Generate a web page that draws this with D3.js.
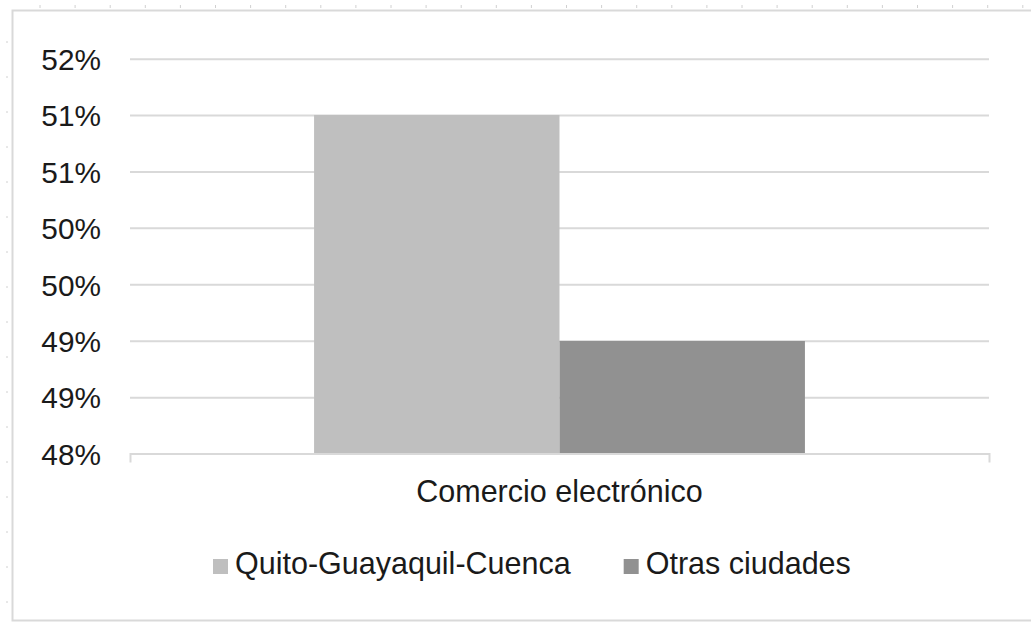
<!DOCTYPE html>
<html>
<head>
<meta charset="utf-8">
<script src="https://cdn.jsdelivr.net/npm/d3@7"></script>
<style>
  html, body { margin: 0; padding: 0; background: #ffffff; }
  svg { display: block; }
  text { font-family: "Liberation Sans", Arial, Helvetica, sans-serif; fill: #1a1a1a; }
</style>
</head>
<body>
<svg id="chart" width="1031" height="623"></svg>
<script>
// Share of e-commerce by city group
const categories = ["Comercio electrónico"];
const seriesNames = ["Quito-Guayaquil-Cuenca", "Otras ciudades"];
const seriesValues = [0.5143, 0.4914];
const seriesColors = ["#bfbfbf", "#919191"];
const yTickValues = [0.48, 0.48571, 0.49143, 0.49714, 0.50286, 0.50857, 0.51429, 0.52];
const yDomain = [0.48, 0.52];

const svg = d3.select("#chart");
const W = 1031, H = 623;

// sheet ruler marks along the top and left edges
const ruler = svg.append("g").attr("stroke", "#d0d0d0").attr("stroke-width", 1);
d3.range(40, W, 35.1).forEach(x => {
  ruler.append("line").attr("x1", x).attr("x2", x).attr("y1", 5).attr("y2", 8);
});
d3.range(42, H, 35).forEach(y => {
  ruler.append("line").attr("x1", 6).attr("x2", 8).attr("y1", y).attr("y2", y);
});

// chart area frame (runs off the right edge)
svg.append("rect")
  .attr("x", 12.5).attr("y", 10.5)
  .attr("width", W + 20).attr("height", 610)
  .attr("fill", "#ffffff")
  .attr("stroke", "#d9d9d9").attr("stroke-width", 2);

const plot = { left: 130, right: 989, top: 58.7, bottom: 453.5 };

const y = d3.scaleLinear().domain(yDomain).range([plot.bottom, plot.top]);
const x0 = d3.scaleBand().domain(categories).range([plot.left, plot.right])
  .paddingInner(0).paddingOuter(0.375);
const x1 = d3.scaleBand().domain(seriesNames).range([0, x0.bandwidth()]).padding(0);

const pct = d3.format(".0%");

// horizontal gridlines
const grid = svg.append("g")
  .attr("transform", `translate(${plot.left},0)`)
  .call(d3.axisLeft(y).tickValues(yTickValues.slice(1)).tickSize(-(plot.right - plot.left)).tickFormat(""));
grid.select(".domain").remove();
grid.selectAll(".tick line").attr("stroke", "#d9d9d9").attr("stroke-width", 2);

// y tick labels
const yAxis = svg.append("g")
  .attr("transform", `translate(101,0)`)
  .call(d3.axisLeft(y).tickValues(yTickValues).tickSize(0).tickPadding(0).tickFormat(pct));
yAxis.select(".domain").remove();
yAxis.selectAll(".tick text")
  .attr("font-size", 29.8)
  .attr("font-family", "Liberation Sans, Arial, sans-serif")
  .attr("fill", "#1a1a1a")
  .attr("text-anchor", "end")
  .attr("dy", "0.36em");

// bars
const groups = svg.append("g").selectAll("g")
  .data(categories)
  .join("g")
  .attr("transform", d => `translate(${x0(d)},0)`);

groups.selectAll("rect")
  .data(() => seriesNames.map((name, i) => ({ name, value: seriesValues[i], color: seriesColors[i] })))
  .join("rect")
  .attr("x", d => x1(d.name))
  .attr("width", x1.bandwidth())
  .attr("y", d => y(d.value))
  .attr("height", d => y(yDomain[0]) - y(d.value))
  .attr("fill", d => d.color);

// category axis
const xAxis = svg.append("g")
  .attr("transform", `translate(0,${plot.bottom})`)
  .call(d3.axisBottom(x0).tickSizeInner(0).tickSizeOuter(9).tickPadding(0));
xAxis.select(".domain").attr("stroke", "#d9d9d9").attr("stroke-width", 2);
xAxis.selectAll(".tick text")
  .attr("font-size", 30.5)
  .attr("font-family", "Liberation Sans, Arial, sans-serif")
  .attr("fill", "#1a1a1a")
  .attr("y", 48)
  .attr("dy", 0);

// legend
const legend = svg.append("g").attr("transform", "translate(213,0)");
let lx = 0;
seriesNames.forEach((name, i) => {
  const item = legend.append("g").attr("transform", `translate(${lx},0)`);
  item.append("rect")
    .attr("x", 0).attr("y", 559)
    .attr("width", 15).attr("height", 15)
    .attr("fill", seriesColors[i]);
  const t = item.append("text")
    .attr("x", 22).attr("y", 574)
    .attr("font-size", 30.5)
    .text(name);
  lx += 22 + t.node().getComputedTextLength() + 53;
});
</script>
</body>
</html>
